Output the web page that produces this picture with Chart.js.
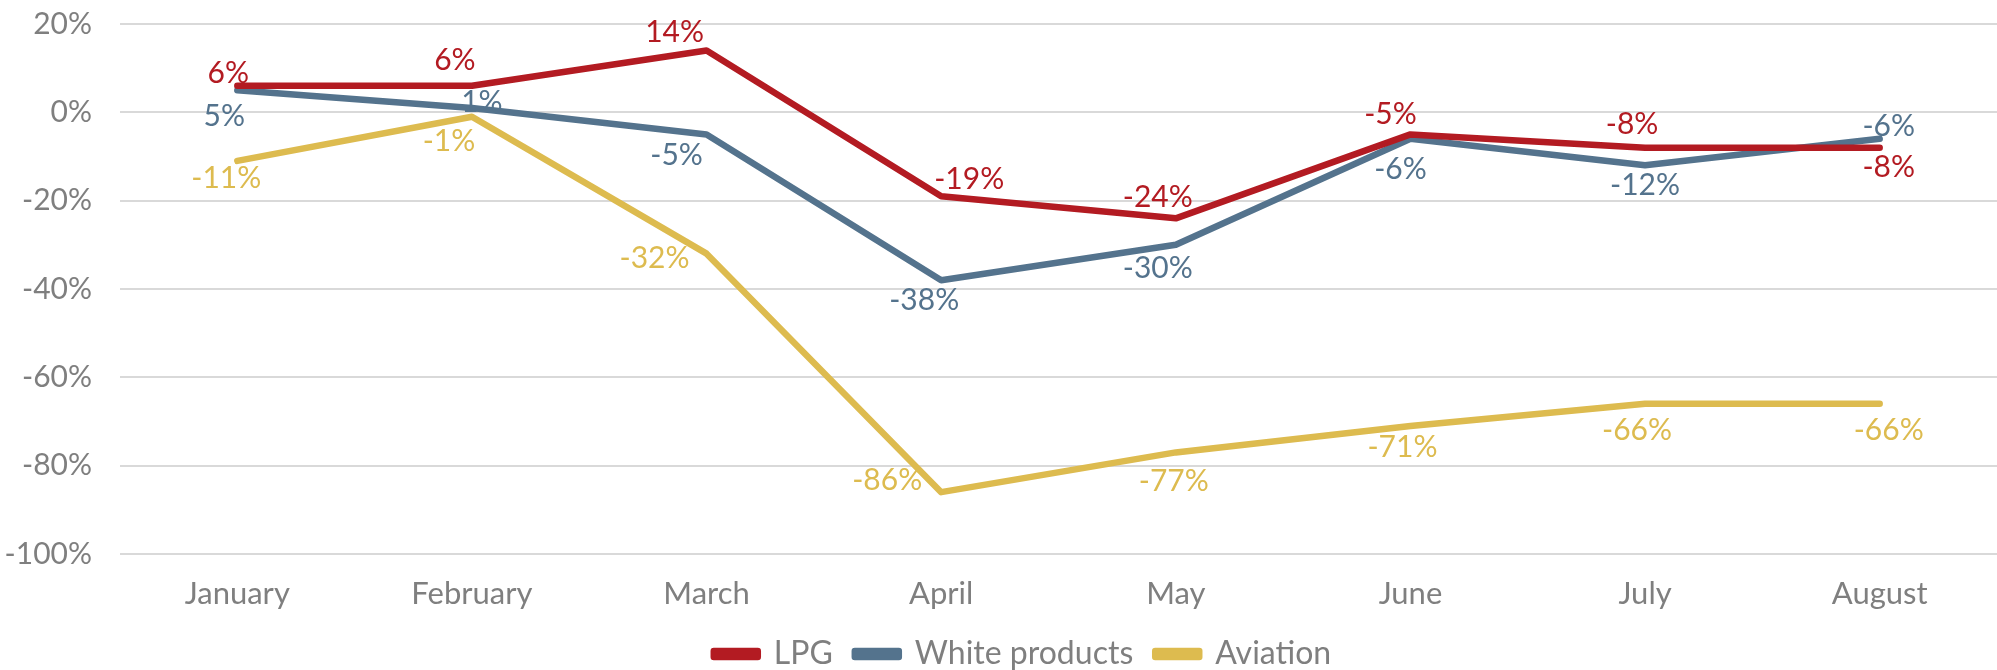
<!DOCTYPE html>
<html>
<head>
<meta charset="utf-8">
<script src="https://cdn.jsdelivr.net/npm/chart.js@4"></script>
<style>
  html, body { margin: 0; padding: 0; background: #fff; }
  #wrap { width: 1997px; height: 670px; position: relative; }
</style>
</head>
<body>
<div id="wrap"><canvas id="chart"></canvas></div>
<script>
/* ── Data ───────────────────────────────────────────── */
const months   = ['January', 'February', 'March', 'April', 'May', 'June', 'July', 'August'];
const lpg      = [6, 6, 14, -19, -24, -5, -8, -8];
const white    = [5, 1, -5, -38, -30, -6, -12, -6];
const aviation = [-11, -1, -32, -86, -77, -71, -66, -66];
const yTicks   = [20, 0, -20, -40, -60, -80, -100];

/* ── Label nudges (px, relative to the point) ───────── */
const lpgDx = [-9, -17, -32, 28, -18, -20, -13, 9];
const lpgDy = [-13, -26, -18, -17, -21, -20, -23, 20];
const whtDx = [-13, 10, -30, -17, -18, -10, 0, 9];
const whtDy = [26, -6, 21, 20, 23, 30, 20, -13];
const avDx  = [-11, -23, -52, -54, -2, -8, -8, 9];
const avDy  = [17, 25, 5, -12, 29, 21, 26, 26];

const FONT = 'Lato, "Open Sans", sans-serif';
const GREY = '#7f7f7f';

/* ── Point labels ───────────────────────────────────── */
const pointLabels = {
  id: 'pointLabels',
  afterDatasetsDraw(chart) {
    const ctx = chart.ctx;
    ctx.save();
    ctx.font = `30px ${FONT}`;
    ctx.textAlign = 'center';
    ctx.textBaseline = 'middle';
    chart.data.datasets.forEach((ds, i) => {
      const meta = chart.getDatasetMeta(i);
      ctx.fillStyle = ds.borderColor;
      meta.data.forEach((pt, j) => {
        ctx.fillText(ds.data[j] + '%', pt.x + ds.dx[j], pt.y + ds.dy[j]);
      });
    });
    ctx.restore();
  }
};

/* ── Legend nudge: sit a bit right of canvas centre ─── */
const legendShift = {
  id: 'legendShift',
  afterLayout(chart) {
    const lg = chart.legend;
    if (!lg) return;
    lg.left += 24;
    lg.right += 24;
  }
};

/* ── Chart ──────────────────────────────────────────── */
const line = (label, data, color, dx, dy) => ({
  label, data, dx, dy,
  borderColor: color, backgroundColor: color,
  borderWidth: 6.5, borderCapStyle: 'round', borderJoinStyle: 'round',
  pointRadius: 0, pointHoverRadius: 0, tension: 0, fill: false,
});

new Chart(document.getElementById('chart'), {
  type: 'line',
  data: {
    labels: months,
    datasets: [
      line('LPG', lpg, '#b31b22', lpgDx, lpgDy),
      line('White products', white, '#54738d', whtDx, whtDy),
      line('Aviation', aviation, '#ddbb4f', avDx, avDy),
    ]
  },
  options: {
    responsive: true, maintainAspectRatio: false, animation: false,
    layout: { padding: { top: 24, right: 0, bottom: -10, left: 0 } },
    scales: {
      x: {
        offset: true,
        grid: { display: false }, border: { display: false },
        ticks: { color: GREY, font: { family: FONT, size: 31 }, padding: 13, maxRotation: 0 },
        afterFit: s => { s.height = 62; },
      },
      y: {
        min: -100, max: 20,
        afterBuildTicks: s => { s.ticks = yTicks.map(v => ({ value: v })); },
        grid: { color: '#d9d9d9', lineWidth: 2, drawTicks: false },
        border: { display: false },
        ticks: { color: GREY, font: { family: FONT, size: 30 }, padding: 28, callback: v => v + '%' },
        afterFit: s => { s.width = 120; s.paddingTop = 0; s.paddingBottom = 0; },
      }
    },
    plugins: {
      tooltip: { enabled: false },
      legend: {
        position: 'bottom',
        labels: { color: GREY, font: { family: FONT, size: 32 }, boxWidth: 44, boxHeight: 6, padding: 22 }
      }
    }
  },
  plugins: [pointLabels, legendShift]
});
</script>
</body>
</html>
